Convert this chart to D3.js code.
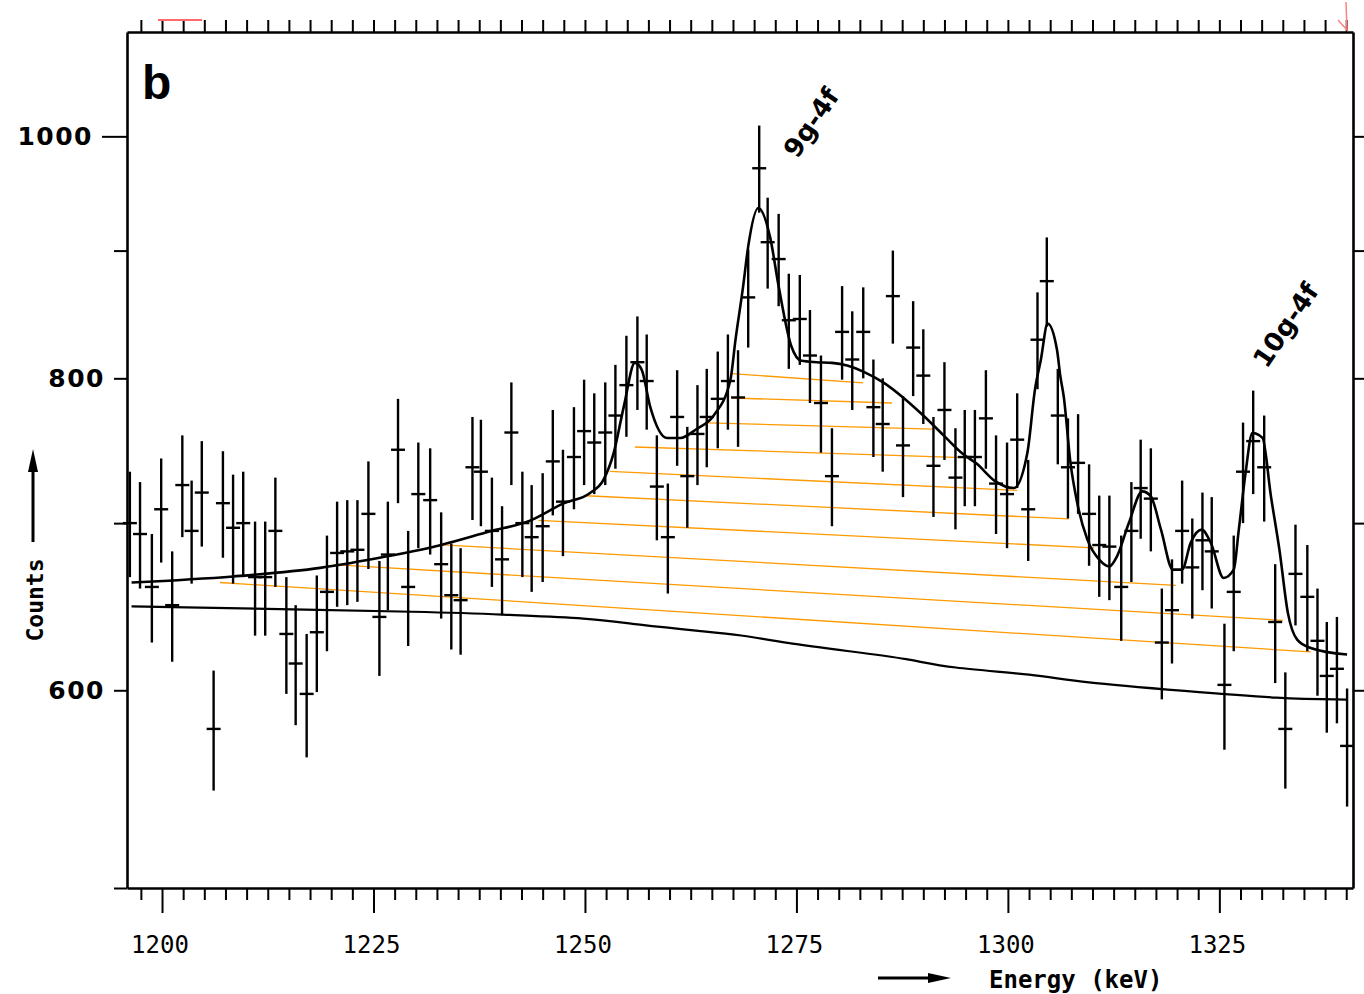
<!DOCTYPE html>
<html><head><meta charset="utf-8">
<script src="https://cdn.jsdelivr.net/npm/d3@7"></script>
<style>body{margin:0;background:#fff}svg{display:block}</style>
</head><body>
<svg id="chart" width="1364" height="994"></svg>
<script>
// ---- data ----
const energies = [1196.2,1197.4,1198.8,1199.9,1201.2,1202.4,1203.5,1204.7,1206.1,1207.2,1208.4,1209.6,1211.0,1212.2,1213.4,1214.7,1215.8,1217.1,1218.3,1219.5,1220.7,1221.9,1223.1,1224.4,1225.7,1226.7,1227.9,1229.1,1230.3,1231.7,1233.0,1234.2,1235.3,1236.7,1237.7,1239.0,1240.2,1241.3,1242.6,1243.7,1245.0,1246.2,1247.4,1248.7,1249.9,1251.1,1252.4,1253.6,1254.9,1256.2,1257.3,1258.5,1259.8,1260.9,1262.1,1263.3,1264.4,1265.7,1266.9,1268.1,1269.3,1270.6,1271.6,1272.9,1274.1,1275.4,1276.6,1277.9,1279.2,1280.4,1281.6,1282.9,1284.1,1285.2,1286.4,1287.6,1288.8,1290.0,1291.2,1292.5,1293.8,1294.9,1296.1,1297.4,1298.6,1299.9,1301.1,1302.4,1303.5,1304.6,1305.9,1307.1,1308.3,1309.6,1310.8,1312.0,1313.4,1314.6,1315.7,1316.9,1318.2,1319.4,1320.6,1321.8,1323.0,1324.1,1325.6,1326.7,1327.8,1329.0,1330.3,1331.6,1332.8,1334.0,1335.4,1336.6,1337.7,1338.9,1340.1];
const counts = [700,693,660,709,649,725,695,720,579,713,697,700,666,666,695,632,615,598,633,657,681,682,683,706,642,680,749,660,719,715,674,655,652,737,734,695,677,761,700,691,698,741,714,744,762,754,761,773,795,812,798,724,691,772,731,760,772,785,798,786,862,971,907,893,844,845,817,782,731,835,814,835,779,767,863,752,823,802,738,777,730,744,744,771,726,719,756,709,829,875,773,737,740,706,686,685,660,695,723,716,627,646,695,672,689,682,603,657,734,755,737,639,579,668,654,628,608,612,570];
const errors = [34,34,33,34,33,34,33,35,32,35,35,34,35,35,35,34,34,34,34,35,33,33,32,35,34,34,36,35,35,35,33,32,32,35,36,35,34,36,34,34,35,36,35,35,37,35,36,37,37,35,35,35,35,34,34,35,35,35,35,35,39,39,38,38,37,35,35,35,33,36,37,35,35,33,37,35,36,35,34,35,34,33,33,35,33,35,33,33,37,36,34,34,34,33,32,33,32,32,33,34,32,31,33,31,31,35,35,35,34,36,36,35,31,31,32,31,31,30,31];

// total fit curve
const fitE = [1196.4,1208.4,1218.7,1226.6,1232.9,1238.8,1243.5,1247.4,1250.6,1252.2,1253.4,1254.6,1255.9,1256.7,1257.7,1259.7,1261.3,1263.2,1265.2,1267.2,1267.8,1268.7,1269.3,1270.5,1271.9,1272.9,1274.4,1275.6,1277.4,1279.2,1281.0,1282.9,1285.3,1287.6,1290.0,1292.4,1294.7,1296.3,1298.4,1300.7,1302.3,1303.2,1303.9,1304.7,1305.8,1306.2,1306.6,1307.4,1308.2,1309.4,1310.8,1312.0,1312.9,1314.3,1315.9,1316.9,1318.1,1319.5,1320.6,1321.6,1322.9,1324.0,1325.5,1326.7,1327.3,1328.1,1328.9,1330.1,1331.1,1332.1,1333.1,1334.2,1335.8,1340.1];
const fitC = [662.7,666.4,671.7,678.9,685.9,694.7,701.6,712.7,719.7,728.6,746.8,779.6,811.5,806.5,779.6,757.2,757.2,763.5,772.9,799.0,829.1,870.8,903.5,936.1,910.8,870.8,824.0,813.0,812.0,811.5,809.5,805.0,796.8,786.0,773.0,759.0,746.0,739.5,728.0,723.0,746.8,791.7,813.9,841.4,821.5,801.5,786.8,740.0,713.1,689.4,676.8,672.6,678.9,700.1,720.8,717.5,695.8,670.6,670.6,687.3,695.8,687.3,665.5,670.6,695.8,733.2,760.7,757.2,717.5,683.1,644.4,628.7,623.9,620.1];

// background curve
const bgE = [1196.4,1235.2,1240.2,1250.6,1256.1,1264.0,1268.3,1273.5,1281.4,1288.4,1292.8,1303.5,1308.2,1321.2,1332.3,1340.0];
const bgC = [648.3,644.7,643.3,641.4,637.4,633.5,631.6,626.8,621.9,617.6,612.5,608.8,604.5,599.5,595.3,594.9];

// orange hatching (broad component), top to bottom
const hatchStartE = [1267.35,1267.35,1264.55,1255.9,1252.95,1250.2,1244.5,1232.7,1220.25,1206.85];
const hatchStartC = [803.5,785.6,767.8,750.9,734.2,717.9,701.8,686.2,673.7,662.7];
const hatchEndE   = [1282.9,1286.3,1291.1,1295.6,1301.1,1307.2,1310.2,1319.85,1332.5,1335.8];
const hatchEndC   = [796.6,782.0,763.4,743.4,721.4,702.7,684.2,660.9,640.0,621.6];

// peak labels
const peakLabels = ["9g-4f","10g-4f"];
const peakLabelE = [1275.1,1330.6];
const peakLabelC = [978.8,806.5];

// ticks
const xTickLabels = [1200,1225,1250,1275,1300,1325];
const yTickLabels = [600,800,1000];
const yTicks = [500,600,700,800,900,1000];
const xMinorTicks = [1197.5,1200,1202.5,1205,1207.5,1210,1212.5,1215,1217.5,1220,1222.5,1225,1227.5,1230,1232.5,1235,1237.5,1240,1242.5,1245,1247.5,1250,1252.5,1255,1257.5,1260,1262.5,1265,1267.5,1270,1272.5,1275,1277.5,1280,1282.5,1285,1287.5,1290,1292.5,1295,1297.5,1300,1302.5,1305,1307.5,1310,1312.5,1315,1317.5,1320,1322.5,1325,1327.5,1330,1332.5,1335,1337.5,1340];

// ---- drawing ----
const W = 1364, H = 994;
const plot = {left:127, right:1353, top:32, bottom:888};
const x = d3.scaleLinear().domain([1195.86, 1340.8]).range([plot.left, plot.right]);
const y = d3.scaleLog().domain([500, 1101]).range([plot.bottom, plot.top]);
const svg = d3.select('#chart');
svg.append('rect').attr('width', W).attr('height', H).attr('fill', '#fff');

// hatching
svg.append('g').selectAll('line').data(d3.range(hatchStartE.length)).join('line')
  .attr('x1', i => x(hatchStartE[i])).attr('y1', i => y(hatchStartC[i]))
  .attr('x2', i => x(hatchEndE[i])).attr('y2', i => y(hatchEndC[i]))
  .attr('stroke', '#ff9a00').attr('stroke-width', 1.3);

// background
const bgLine = d3.line().x(d => x(d[0])).y(d => y(d[1])).curve(d3.curveBasis);
svg.append('path').datum(d3.zip(bgE, bgC)).attr('d', bgLine)
  .attr('fill', 'none').attr('stroke', '#000').attr('stroke-width', 2.2);

// fit
const fitLine = d3.line().x(d => x(d[0])).y(d => y(d[1])).curve(d3.curveMonotoneX);
svg.append('path').datum(d3.zip(fitE, fitC)).attr('d', fitLine)
  .attr('fill', 'none').attr('stroke', '#000').attr('stroke-width', 2.6).attr('stroke-linejoin','round');

// data points with error bars
const pts = svg.append('g').attr('stroke', '#000').attr('stroke-width', 2.4);
const idx = d3.range(energies.length);
pts.selectAll('line.v').data(idx).join('line').attr('class','v')
  .attr('x1', i => x(energies[i])).attr('x2', i => x(energies[i]))
  .attr('y1', i => y(counts[i] + errors[i])).attr('y2', i => y(counts[i] - errors[i]));
pts.selectAll('line.h').data(idx).join('line').attr('class','h')
  .attr('x1', i => x(energies[i]) - 7).attr('x2', i => x(energies[i]) + 7)
  .attr('y1', i => y(counts[i])).attr('y2', i => y(counts[i]));

// axes
function styleAxis(g){
  g.select('.domain').attr('stroke', '#000').attr('stroke-width', 2.6);
  g.selectAll('.tick line').attr('stroke', '#000').attr('stroke-width', 2);
}
const axB = svg.append('g').attr('transform', `translate(0,${plot.bottom})`)
  .call(d3.axisBottom(x).tickValues(xMinorTicks).tickSize(12).tickSizeOuter(0).tickFormat(''));
axB.selectAll('.tick').filter(d => xTickLabels.includes(d)).select('line').attr('y2', 25);
styleAxis(axB);
const axT = svg.append('g').attr('transform', `translate(0,${plot.top})`)
  .call(d3.axisTop(x).tickValues(xMinorTicks).tickSize(12).tickSizeOuter(0).tickFormat(''));
styleAxis(axT);
const isMajorY = d => Number.isInteger(Math.log10(d));
const axL = svg.append('g').attr('transform', `translate(${plot.left},0)`)
  .call(d3.axisLeft(y).tickValues(yTicks).tickSize(13).tickSizeOuter(0).tickFormat(''));
axL.selectAll('.tick').filter(d => isMajorY(d)).select('line').attr('x2', -25);
styleAxis(axL);
const axR = svg.append('g').attr('transform', `translate(${plot.right},0)`)
  .call(d3.axisRight(y).tickValues(yTicks.filter(d => d > 500)).tickSize(12).tickSizeOuter(0).tickFormat(''));
styleAxis(axR);

// tick labels
svg.append('g').selectAll('text').data(xTickLabels).join('text')
  .attr('x', d => x(d) - 2).attr('y', 953).attr('text-anchor', 'middle')
  .attr('font-family', '"DejaVu Sans Mono", monospace').attr('font-size', 24)
  .text(d => d);
svg.append('g').selectAll('text').data(yTickLabels).join('text')
  .attr('x', d => plot.left - (isMajorY(d) ? 25 : 13) - 9).attr('y', d => y(d)).attr('dy', '0.36em')
  .attr('text-anchor', 'end')
  .attr('font-family', '"DejaVu Sans", sans-serif').attr('font-weight', 'bold').attr('font-size', 25)
  .attr('letter-spacing', 1.5)
  .text(d => d);

// panel letter
svg.append('text').attr('x', 142).attr('y', 99)
  .attr('font-family', '"Liberation Sans", Arial, sans-serif').attr('font-weight', 'bold').attr('font-size', 48)
  .text('b');

// peak labels
svg.append('g').selectAll('text').data(d3.range(peakLabels.length)).join('text')
  .attr('transform', i => `translate(${x(peakLabelE[i])},${y(peakLabelC[i])}) rotate(-56)`)
  .attr('font-family', '"DejaVu Sans", sans-serif').attr('font-weight', 'bold').attr('font-size', 26)
  .text(i => peakLabels[i]);

// axis titles with arrows
svg.append('text').attr('transform', 'translate(43,600) rotate(-90)').attr('text-anchor', 'middle')
  .attr('font-family', '"DejaVu Sans Mono", monospace').attr('font-weight', 'bold').attr('font-size', 23)
  .text('Counts');
svg.append('line').attr('x1', 33).attr('y1', 542).attr('x2', 33).attr('y2', 468)
  .attr('stroke', '#000').attr('stroke-width', 3);
svg.append('path').attr('d', 'M33,449 L28,472 L38,472 Z').attr('fill', '#000');

svg.append('text').attr('x', 989).attr('y', 988)
  .attr('font-family', '"DejaVu Sans Mono", monospace').attr('font-weight', 'bold').attr('font-size', 24)
  .text('Energy (keV)');
svg.append('line').attr('x1', 878).attr('y1', 978).attr('x2', 935).attr('y2', 978)
  .attr('stroke', '#000').attr('stroke-width', 3);
svg.append('path').attr('d', 'M951,978 L928,973 L928,983 Z').attr('fill', '#000');

// faint red scan marks at the top
svg.append('line').attr('x1', 158).attr('y1', 20).attr('x2', 202).attr('y2', 20)
  .attr('stroke', '#ff6a6a').attr('stroke-width', 2);
svg.append('path').attr('d', 'M1338,20 L1347,30 L1346,2').attr('fill', 'none')
  .attr('stroke', '#ff8080').attr('stroke-width', 1.5);
</script>
</body></html>
